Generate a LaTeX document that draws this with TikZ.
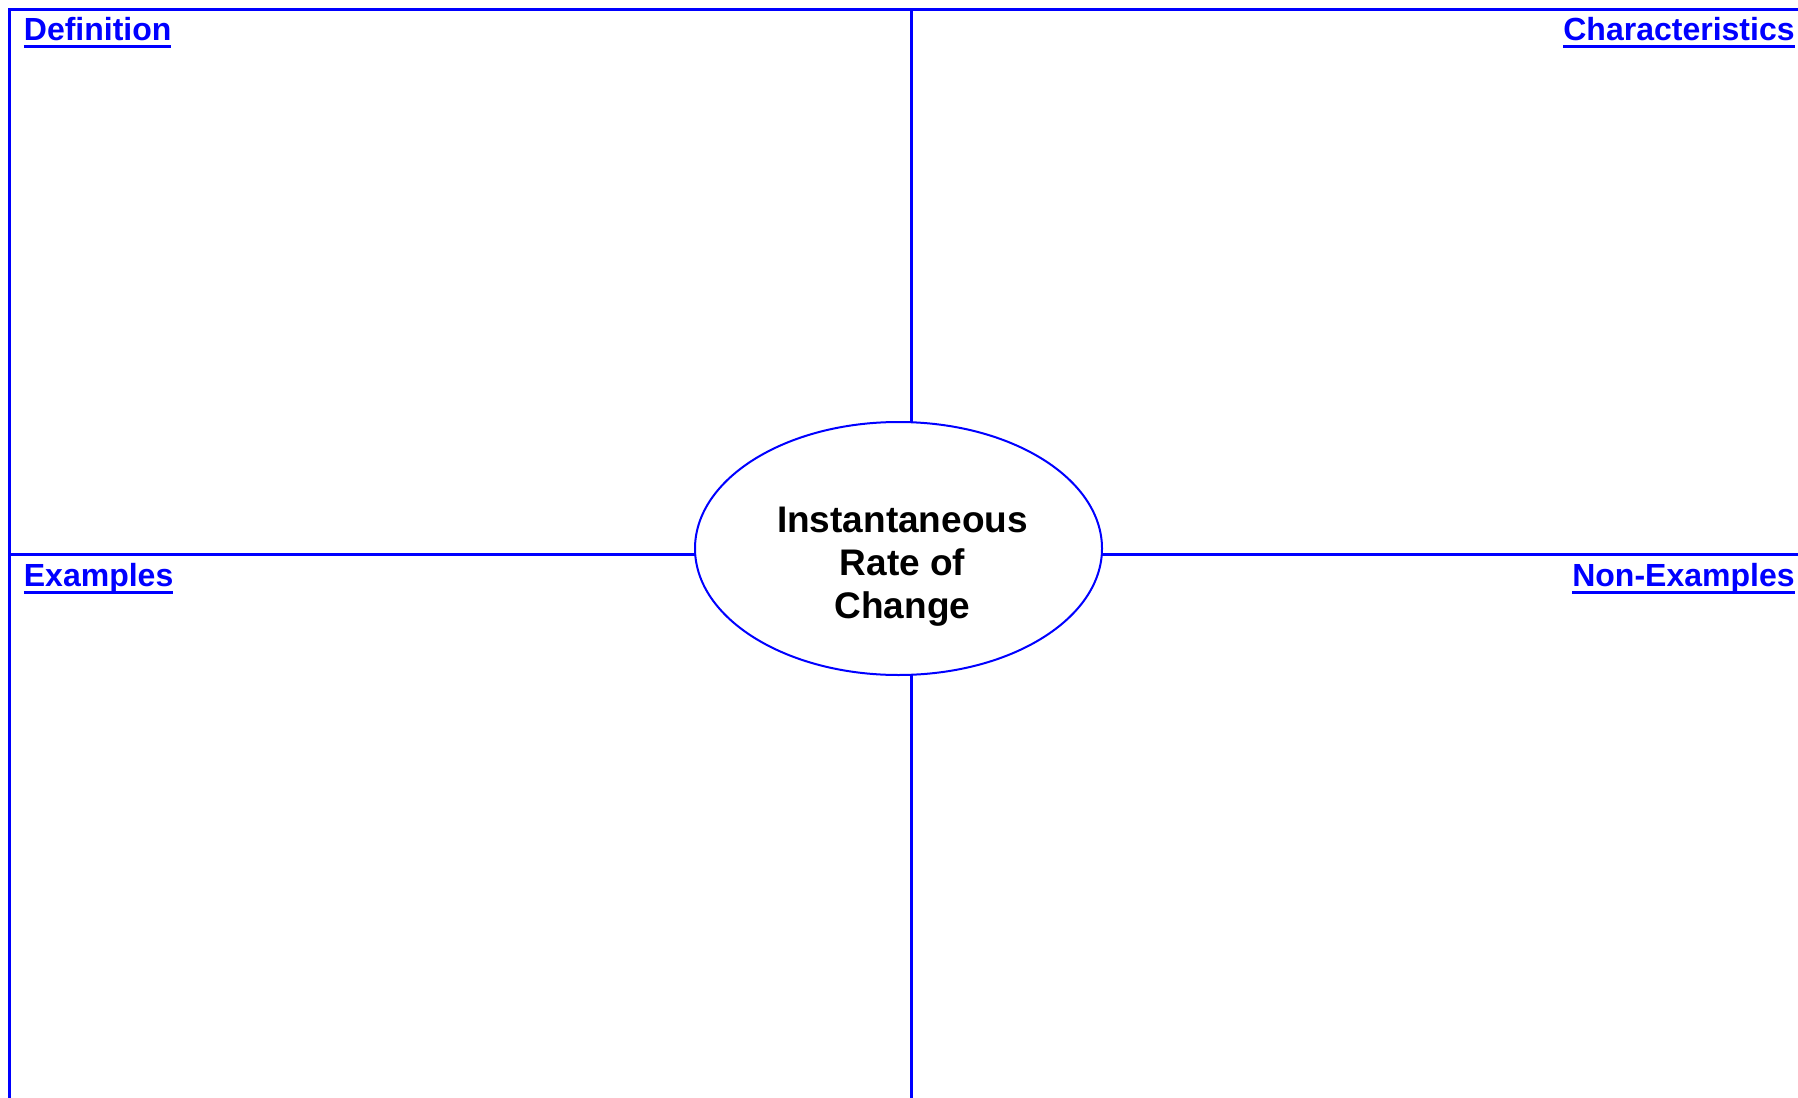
\documentclass[tikz,border=0pt]{standalone}
\usepackage{fontspec}
\setmainfont{Liberation Sans}
\usepackage{tikz}
\usetikzlibrary{shapes.geometric, calc}
\usepackage{xcolor}
\definecolor{frameblue}{RGB}{0,0,255}
% underline that ignores descenders
\newcommand\ulabel[1]{\leavevmode\setbox0\hbox{#1}\rlap{\rule[-0.22em]{\wd0}{0.095em}}\box0}

\begin{document}
\begin{tikzpicture}[x=0.5pt, y=-0.5pt,
  frame/.style={frameblue, line width=1.5pt},
  cornerlabel/.style={frameblue, font=\fontsize{16}{18}\selectfont\bfseries, inner sep=0pt},
  hubshape/.style={ellipse, draw=frameblue, line width=1pt, minimum width=203.5pt, minimum height=126.5pt, inner sep=0pt, outer sep=0pt}]
  \useasboundingbox (0,0) rectangle (1798,1097);

  % outer frame (top and left only)
  \coordinate (tl) at (9.5,9.5);
  \coordinate (tr) at (1810,9.5);
  \coordinate (bl) at (9.5,1110);
  \draw[frame, line join=miter] (tr) -- (tl) -- (bl);

  % centre ellipse
  \node[hubshape] (hub) at (898.5,548.5) {};
  \node[font=\fontsize{18.5}{21.5}\selectfont\bfseries, align=center, inner sep=0pt] (hubtext) at (902.5,567) {Instantaneous\\Rate of\\Change};

  % split lines
  \coordinate (vtop) at (911.5,9.5);
  \coordinate (vbot) at (911.5,1110);
  \coordinate (hleft) at (9.5,554.5);
  \coordinate (hright) at (1810,554.5);
  \draw[frame] (vtop) -- (vtop |- hub.north);
  \draw[frame] (vbot |- hub.south) -- (vbot);
  \draw[frame] (hleft) -- (hleft -| hub.west);
  \draw[frame] (hright -| hub.east) -- (hright);

  % quadrant titles
  \node[cornerlabel, anchor=base west] (def) at (23.5,40.5) {\ulabel{Definition}};
  \node[cornerlabel, anchor=base east] (chars) at (1795,40.5) {\ulabel{Characteristics}};
  \node[cornerlabel, anchor=base west] (exs) at (23.5,586.5) {\ulabel{Examples}};
  \node[cornerlabel, anchor=base east] (nonexs) at (1795,586.5) {\ulabel{Non-Examples}};
\end{tikzpicture}
\end{document}
